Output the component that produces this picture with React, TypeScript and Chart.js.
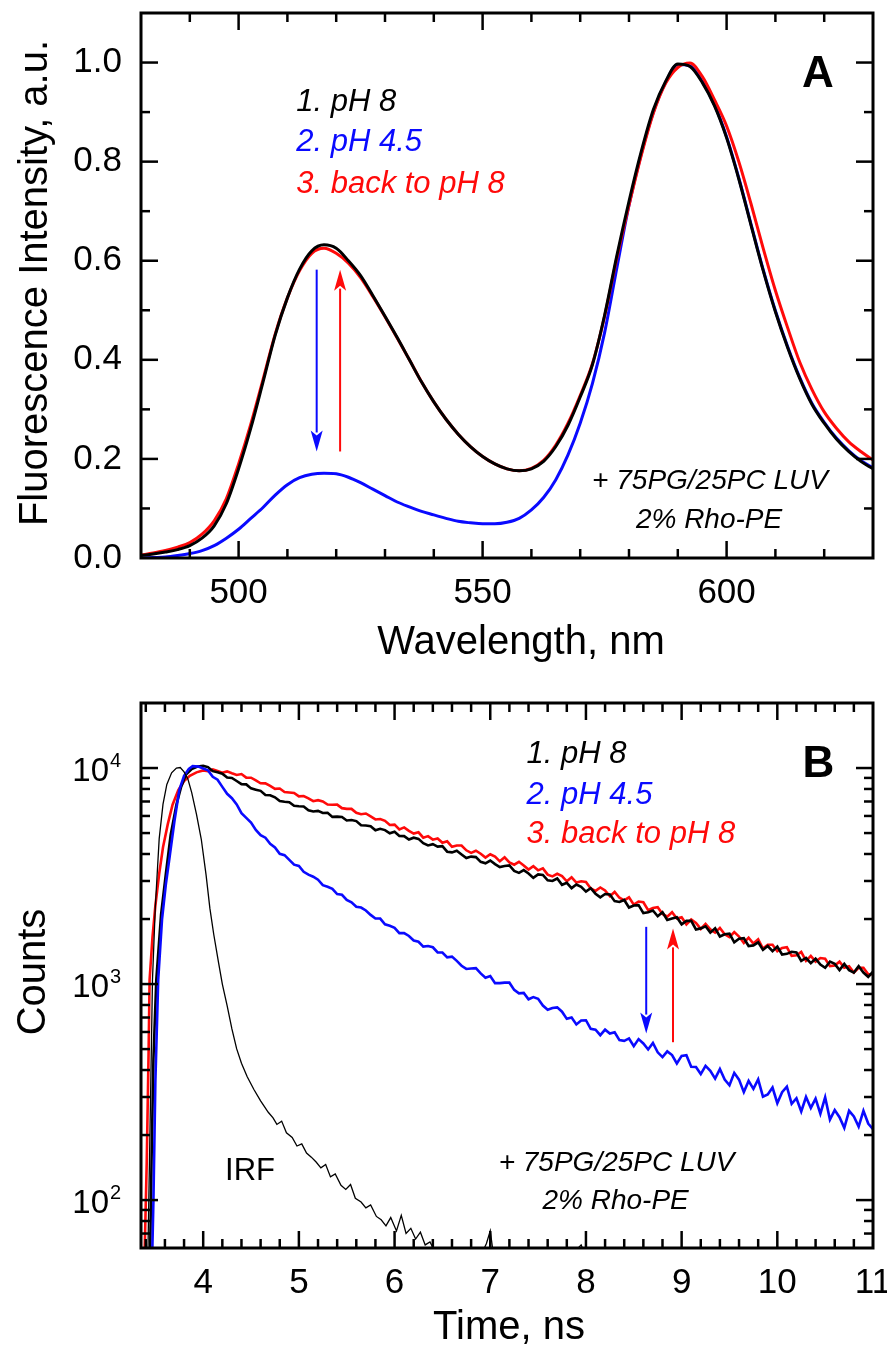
import React, { useEffect, useRef } from 'react';
import { Chart, registerables } from 'chart.js';

Chart.register(...registerables);

const FONT = "'Liberation Sans', Arial, Helvetica, sans-serif";
const BLACK = '#000000';
const BLUE = '#0a0aff';
const RED = '#ff0a0a';

const W = 887;
const HA = 690;
const HB = 659;

// ---------------- Panel A : emission spectra ----------------
const wavelengthNm = [
  480, 482.5, 485, 487.5, 490, 492.5, 495, 497.5, 500, 502.5,
  505, 507.5, 510, 512.5, 515, 517.5, 520, 522.5, 525, 527.5,
  530, 532.5, 535, 537.5, 540, 542.5, 545, 547.5, 550, 552.5,
  555, 557.5, 560, 562.5, 565, 567.5, 570, 572.5, 575, 577.5,
  580, 582.5, 585, 587.5, 590, 592.5, 595, 597.5, 600, 602.5,
  605, 607.5, 610, 612.5, 615, 617.5, 620, 622.5, 625, 627.5,
  630,
];
const intensityPH8 = [
  0.005, 0.008, 0.012, 0.017, 0.025, 0.040, 0.065, 0.110, 0.180, 0.262,
  0.355, 0.450, 0.525, 0.583, 0.620, 0.632, 0.625, 0.600, 0.570, 0.530,
  0.488, 0.445, 0.400, 0.355, 0.315, 0.280, 0.250, 0.225, 0.205, 0.190,
  0.180, 0.176, 0.180, 0.195, 0.225, 0.268, 0.325, 0.390, 0.490, 0.610,
  0.720, 0.820, 0.905, 0.962, 0.997, 0.992, 0.960, 0.913, 0.848, 0.765,
  0.672, 0.580, 0.497, 0.425, 0.362, 0.310, 0.272, 0.240, 0.215, 0.195,
  0.180,
];
const intensityPH45 = [
  0.000, 0.001, 0.002, 0.005, 0.009, 0.015, 0.025, 0.040, 0.058, 0.080,
  0.102, 0.127, 0.148, 0.162, 0.169, 0.171, 0.170, 0.163, 0.152, 0.139,
  0.126, 0.113, 0.103, 0.094, 0.087, 0.080, 0.074, 0.071, 0.069, 0.069,
  0.072, 0.080, 0.097, 0.122, 0.158, 0.208, 0.272, 0.352, 0.455, 0.585,
  0.712, 0.815, 0.900, 0.960, 0.996, 0.993, 0.962, 0.915, 0.850, 0.767,
  0.674, 0.582, 0.499, 0.427, 0.364, 0.312, 0.274, 0.242, 0.217, 0.197,
  0.182,
];
const intensityBackPH8 = [
  0.006, 0.010, 0.015, 0.022, 0.031, 0.048, 0.075, 0.120, 0.190, 0.270,
  0.360, 0.452, 0.525, 0.580, 0.615, 0.625, 0.615, 0.595, 0.566, 0.528,
  0.487, 0.444, 0.400, 0.355, 0.315, 0.280, 0.250, 0.225, 0.205, 0.190,
  0.180, 0.176, 0.181, 0.197, 0.228, 0.272, 0.328, 0.392, 0.488, 0.605,
  0.712, 0.812, 0.898, 0.958, 0.990, 0.999, 0.972, 0.925, 0.872, 0.800,
  0.715, 0.625, 0.540, 0.465, 0.395, 0.340, 0.295, 0.262, 0.235, 0.215,
  0.198,
];
const wavelengthTickLabels = [500, 550, 600];
const intensityTickLabels = [0, 0.2, 0.4, 0.6, 0.8, 1.0];

// ---------------- Panel B : fluorescence decays ----------------
// leading edges (ns, counts)
const ph8RiseTime = [3.44, 3.46, 3.48, 3.51, 3.56, 3.61, 3.66, 3.72, 3.77, 3.82, 3.88, 3.94];
const ph8RiseCounts = [40, 150, 450, 1050, 2100, 3240, 4900, 6760, 8200, 9330, 9900, 10150];
const backRiseTime = [3.38, 3.41, 3.43, 3.44, 3.47, 3.50, 3.54, 3.58, 3.63, 3.68, 3.74, 3.80, 3.86, 3.93];
const backRiseCounts = [40, 150, 500, 1050, 1650, 2300, 3240, 4300, 5500, 6760, 7900, 8700, 9200, 9550];
const ph45RiseTime = [3.46, 3.48, 3.50, 3.53, 3.57, 3.61, 3.65, 3.70, 3.75, 3.80, 3.85, 3.89, 3.95];
const ph45RiseCounts = [40, 100, 350, 1050, 2000, 2900, 3900, 5700, 7900, 9200, 9900, 10200, 10150];

// decay channels, 4.00 ns ... 11.00 ns every 0.05 ns
const decayTime = Array.from({ length: 141 }, (_, i) => Math.round((4 + i * 0.05) * 100) / 100);
const ph8DecayCounts = [
  10230, 10100, 9670, 9550, 9420, 9030, 9000, 8710, 8420, 8400,
  8050, 7940, 7840, 7500, 7480, 7320, 7030, 6980, 6940, 6690,
  6650, 6640, 6380, 6290, 6330, 6190, 6200, 5940, 5960, 5930,
  5720, 5750, 5680, 5430, 5420, 5380, 5150, 5230, 5160, 4990,
  5070, 4850, 4840, 4670, 4760, 4700, 4490, 4380, 4440, 4330,
  4350, 4100, 4070, 4140, 3980, 3830, 3890, 3870, 3680, 3620,
  3730, 3590, 3480, 3520, 3540, 3340, 3270, 3370, 3250, 3100,
  3220, 3200, 3020, 3000, 3080, 2880, 2940, 2780, 2890, 2820,
  2680, 2780, 2620, 2520, 2610, 2600, 2420, 2400, 2450, 2260,
  2310, 2320, 2130, 2150, 2190, 2060, 2150, 1980, 2010, 2040,
  1890, 1960, 1960, 1790, 1810, 1850, 1730, 1810, 1660, 1700,
  1710, 1560, 1620, 1630, 1500, 1510, 1560, 1440, 1500, 1420,
  1490, 1370, 1380, 1410, 1400, 1280, 1320, 1250, 1310, 1230,
  1190, 1270, 1240, 1160, 1240, 1160, 1130, 1210, 1130, 1080,
  1140,
];
const backDecayCounts = [
  9750, 9670, 9850, 9680, 9520, 9650, 9460, 9290, 9380, 9030,
  9020, 8770, 8500, 8490, 8260, 8010, 8040, 7750, 7710, 7670,
  7390, 7420, 7240, 7020, 7100, 7000, 6780, 6760, 6770, 6520,
  6470, 6470, 6210, 6110, 6160, 5970, 5780, 5810, 5700, 5450,
  5470, 5200, 5310, 5120, 4970, 5040, 4760, 4840, 4660, 4720,
  4510, 4580, 4320, 4380, 4380, 4160, 4050, 4140, 4010, 3850,
  3990, 3890, 3700, 3860, 3660, 3570, 3680, 3540, 3390, 3510,
  3360, 3430, 3210, 3150, 3240, 3160, 2990, 3120, 2950, 2990,
  2970, 2770, 2700, 2800, 2710, 2550, 2670, 2510, 2440, 2520,
  2330, 2410, 2390, 2200, 2250, 2270, 2110, 2050, 2150, 2010,
  2040, 1890, 1990, 1920, 1800, 1900, 1790, 1730, 1820, 1700,
  1650, 1740, 1660, 1550, 1640, 1540, 1610, 1460, 1520, 1520,
  1420, 1470, 1480, 1350, 1360, 1410, 1280, 1350, 1270, 1320,
  1310, 1210, 1220, 1270, 1190, 1210, 1130, 1190, 1190, 1110,
  1110,
];
const ph45DecayCounts = [
  9950, 9750, 9110, 8830, 8180, 7600, 7250, 6780, 6180, 5880,
  5590, 5170, 4890, 4760, 4460, 4290, 4010, 3950, 3760, 3570,
  3520, 3310, 3210, 3140, 3040, 2870, 2820, 2760, 2610, 2590,
  2450, 2390, 2280, 2260, 2190, 2090, 2010, 2010, 1890, 1860,
  1820, 1720, 1720, 1670, 1590, 1570, 1490, 1500, 1480, 1400,
  1400, 1330, 1340, 1280, 1215, 1175, 1180, 1185, 1120, 1070,
  1090, 1010, 1010, 1015, 1015, 940, 905, 910, 850, 870,
  855, 795, 760, 775, 780, 745, 690, 700, 650, 678,
  680, 620, 615, 580, 615, 590, 598, 550, 546, 560,
  516, 556, 531, 498, 534, 483, 459, 488, 469, 429,
  465, 468, 414, 413, 383, 418, 397, 365, 404, 361,
  340, 388, 361, 316, 356, 327, 362, 301, 308, 332,
  281, 316, 335, 279, 296, 257, 300, 267, 295, 251,
  299, 236, 261, 242, 216, 259, 244, 219, 259, 226,
  213,
];
const irfTime = [
  3.42, 3.45, 3.47, 3.50, 3.54, 3.58, 3.62, 3.67, 3.72, 3.76,
  3.80, 3.84, 3.88, 3.93, 3.98, 4.03, 4.07, 4.11, 4.16, 4.20,
  4.25, 4.30, 4.35, 4.40, 4.46, 4.53, 4.60, 4.68, 4.73, 4.77,
  4.82, 4.87, 4.93, 4.98, 5.03, 5.08, 5.13, 5.18, 5.23, 5.28,
  5.33, 5.38, 5.44, 5.49, 5.54, 5.59, 5.65, 5.70, 5.75, 5.81,
  5.86, 5.91, 5.96, 6.02, 6.07, 6.12, 6.17, 6.22, 6.27, 6.32,
  6.37, 6.42, 6.50, 6.60, 6.70, 6.80, 6.90, 6.96, 7.00, 7.04,
  7.15, 7.30, 7.45, 7.60, 7.80, 7.95, 8.05, 8.20,
];
const irfCounts = [
  50, 300, 1050, 2300, 4700, 6800, 8400, 9500, 10000, 10050,
  9600, 8900, 7700, 6100, 4680, 3200, 2240, 1700, 1260, 1000,
  794, 620, 501, 430, 372, 325, 288, 255, 240, 224,
  232, 205, 195, 178, 182, 165, 158, 150, 141, 146,
  128, 132, 117, 112, 118, 102, 98, 92, 95, 84,
  81, 76, 83, 72, 85, 70, 74, 66, 71, 62,
  64, 58, 56, 52, 57, 50, 55, 63, 72, 53,
  57, 50, 55, 49, 53, 62, 48, 51,
];
const timeTickLabels = [4, 5, 6, 7, 8, 9, 10, 11];
const countsTickLabels = [100, 1000, 10000];

// ---------------- helpers ----------------
type Pt = { x: number; y: number };
const zip = (xs: number[], ys: number[]): Pt[] => xs.map((x, i) => ({ x, y: ys[i] }));

function makeDecor(cfg: any) {
  return {
    id: 'decor',
    afterDraw(chart: any) {
      const { ctx, chartArea: a } = chart;
      const xs = chart.scales.x;
      const ys = chart.scales.y;
      ctx.save();
      const seg = (x1: number, y1: number, x2: number, y2: number) => {
        ctx.beginPath();
        ctx.moveTo(x1, y1);
        ctx.lineTo(x2, y2);
        ctx.stroke();
      };
      ctx.strokeStyle = '#000';
      ctx.lineWidth = 2.5;
      const xt = (vals: number[], len: number) =>
        vals.forEach((v) => {
          const p = xs.getPixelForValue(v);
          if (p < a.left + 1 || p > a.right - 1) return;
          seg(p, a.bottom, p, a.bottom - len);
          seg(p, a.top, p, a.top + len);
        });
      const yt = (vals: number[], len: number) =>
        vals.forEach((v) => {
          const p = ys.getPixelForValue(v);
          if (p < a.top + 1 || p > a.bottom - 1) return;
          seg(a.left, p, a.left + len, p);
          seg(a.right, p, a.right - len, p);
        });
      xt(cfg.xMajor, 17);
      xt(cfg.xMinor, 9);
      yt(cfg.yMajor, 17);
      yt(cfg.yMinor, 9);
      ctx.lineWidth = 3;
      ctx.strokeRect(a.left, a.top, a.right - a.left, a.bottom - a.top);

      // arrows
      for (const ar of cfg.arrows) {
        const px = xs.getPixelForValue(ar.x);
        const y1 = ys.getPixelForValue(ar.from);
        const y2 = ys.getPixelForValue(ar.to);
        const dir = Math.sign(y2 - y1);
        const headLen = 21;
        const headHalf = 6;
        ctx.strokeStyle = ar.color;
        ctx.fillStyle = ar.color;
        ctx.lineWidth = 2;
        seg(px, y1, px, y2 - dir * (headLen - 2));
        ctx.beginPath();
        ctx.moveTo(px, y2);
        ctx.lineTo(px - headHalf, y2 - dir * headLen);
        ctx.lineTo(px, y2 - dir * (headLen - 5));
        ctx.lineTo(px + headHalf, y2 - dir * headLen);
        ctx.closePath();
        ctx.fill();
      }

      // annotation texts
      for (const lb of cfg.labels) {
        ctx.font = lb.font;
        ctx.fillStyle = lb.color;
        ctx.textAlign = lb.align;
        ctx.textBaseline = 'middle';
        ctx.fillText(lb.text, xs.getPixelForValue(lb.x), ys.getPixelForValue(lb.y));
      }

      // log tick labels with superscripts
      if (cfg.powerLabels) {
        ctx.fillStyle = '#000';
        for (const v of cfg.powerLabels) {
          const p = ys.getPixelForValue(v);
          const e = String(Math.round(Math.log10(v)));
          ctx.font = `33px ${FONT}`;
          ctx.textAlign = 'right';
          ctx.textBaseline = 'middle';
          ctx.fillText('10', 109, p + 4);
          ctx.font = `20px ${FONT}`;
          ctx.textAlign = 'left';
          ctx.fillText(e, 110, p - 7);
        }
      }

      // axis titles
      ctx.fillStyle = '#000';
      ctx.font = `40px ${FONT}`;
      ctx.textAlign = 'center';
      ctx.textBaseline = 'middle';
      ctx.fillText(cfg.xTitle, cfg.xTitlePos[0], cfg.xTitlePos[1]);
      ctx.save();
      ctx.translate(cfg.yTitlePos[0], cfg.yTitlePos[1]);
      ctx.rotate(-Math.PI / 2);
      ctx.fillText(cfg.yTitle, 0, 0);
      ctx.restore();
      ctx.restore();
    },
  };
}

const annFont = `italic 31px ${FONT}`;
const noteFont = `italic 28px ${FONT}`;

function fixX(h: number) {
  return (s: any) => {
    s.height = h;
    s.paddingLeft = 0;
    s.paddingRight = 0;
    s.paddingTop = 0;
    s.paddingBottom = 0;
  };
}
function fixY(w: number) {
  return (s: any) => {
    s.width = w;
    s.paddingLeft = 0;
    s.paddingRight = 0;
    s.paddingTop = 0;
    s.paddingBottom = 0;
  };
}

function configA(): any {
  const xMinor: number[] = [];
  for (let v = 490; v <= 630; v += 10) if (v % 50 !== 0) xMinor.push(v);
  const yMinor = [0.1, 0.3, 0.5, 0.7, 0.9];
  return {
    type: 'line',
    data: {
      datasets: [
        { label: '1. pH 8', data: zip(wavelengthNm, intensityPH8), borderColor: BLACK, borderWidth: 3 },
        { label: '3. back to pH 8', data: zip(wavelengthNm, intensityBackPH8), borderColor: RED, borderWidth: 3 },
        { label: '2. pH 4.5', data: zip(wavelengthNm, intensityPH45), borderColor: BLUE, borderWidth: 3 },
      ].map((d) => ({ ...d, pointRadius: 0, cubicInterpolationMode: 'monotone', fill: false })),
    },
    options: {
      animation: false,
      responsive: false,
      maintainAspectRatio: false,
      layout: { padding: { top: 13, right: 14, left: 0, bottom: 0 } },
      plugins: { legend: { display: false }, tooltip: { enabled: false } },
      scales: {
        x: {
          type: 'linear',
          min: 480,
          max: 630,
          grid: { display: false, drawTicks: false },
          border: { display: false },
          ticks: { color: '#000', font: { family: FONT, size: 35 }, padding: 14, maxRotation: 0 },
          afterBuildTicks: (s: any) => {
            s.ticks = wavelengthTickLabels.map((v) => ({ value: v }));
          },
          afterFit: fixX(HA - 558),
        },
        y: {
          type: 'linear',
          min: 0,
          max: 1.1,
          grid: { display: false, drawTicks: false },
          border: { display: false },
          ticks: {
            color: '#000',
            font: { family: FONT, size: 35 },
            padding: 19,
            callback: (v: number) => Number(v).toFixed(1),
          },
          afterBuildTicks: (s: any) => {
            s.ticks = intensityTickLabels.map((v) => ({ value: v }));
          },
          afterFit: fixY(141),
        },
      },
    },
    plugins: [
      makeDecor({
        xMajor: wavelengthTickLabels,
        xMinor,
        yMajor: intensityTickLabels,
        yMinor,
        arrows: [
          { x: 516.0, from: 0.582, to: 0.215, color: BLUE },
          { x: 520.8, from: 0.215, to: 0.582, color: RED },
        ],
        labels: [
          { text: '1. pH 8', x: 511.8, y: 0.919, color: BLACK, align: 'left', font: annFont },
          { text: '2. pH 4.5', x: 511.8, y: 0.838, color: BLUE, align: 'left', font: annFont },
          { text: '3. back to pH 8', x: 511.8, y: 0.754, color: RED, align: 'left', font: annFont },
          { text: 'A', x: 618.7, y: 0.976, color: BLACK, align: 'center', font: `bold 44px ${FONT}` },
          { text: '+ 75PG/25PC LUV', x: 596.6, y: 0.154, color: BLACK, align: 'center', font: noteFont },
          { text: '2% Rho-PE', x: 596.4, y: 0.077, color: BLACK, align: 'center', font: noteFont },
        ],
        xTitle: 'Wavelength, nm',
        xTitlePos: [521, 643],
        yTitle: 'Fluorescence Intensity, a.u.',
        yTitlePos: [36, 283],
      }),
    ],
  };
}

function configB(): any {
  const xMinor: number[] = [];
  for (let i = 17; i <= 55; i++) if (i % 5 !== 0) xMinor.push(i / 5);
  const yMinor: number[] = [];
  [10, 100, 1000, 10000].forEach((d) => [2, 3, 4, 5, 6, 7, 8, 9].forEach((m) => yMinor.push(d * m)));
  const ph8 = zip(ph8RiseTime, ph8RiseCounts).concat(zip(decayTime, ph8DecayCounts));
  const back = zip(backRiseTime, backRiseCounts).concat(zip(decayTime, backDecayCounts));
  const ph45 = zip(ph45RiseTime, ph45RiseCounts).concat(zip(decayTime, ph45DecayCounts));
  return {
    type: 'line',
    data: {
      datasets: [
        { label: 'IRF', data: zip(irfTime, irfCounts), borderColor: BLACK, borderWidth: 1.3 },
        { label: '2. pH 4.5', data: ph45, borderColor: BLUE, borderWidth: 2.6 },
        { label: '1. pH 8', data: ph8, borderColor: BLACK, borderWidth: 2.6 },
        { label: '3. back to pH 8', data: back, borderColor: RED, borderWidth: 2.6 },
      ].map((d) => ({ ...d, pointRadius: 0, tension: 0, fill: false })),
    },
    options: {
      animation: false,
      responsive: false,
      maintainAspectRatio: false,
      layout: { padding: { top: 13, right: 14, left: 0, bottom: 0 } },
      plugins: { legend: { display: false }, tooltip: { enabled: false } },
      scales: {
        x: {
          type: 'linear',
          min: 3.35,
          max: 11,
          grid: { display: false, drawTicks: false },
          border: { display: false },
          ticks: { color: '#000', font: { family: FONT, size: 35 }, padding: 14, maxRotation: 0 },
          afterBuildTicks: (s: any) => {
            s.ticks = timeTickLabels.map((v) => ({ value: v }));
          },
          afterFit: fixX(HB - 558),
        },
        y: {
          type: 'logarithmic',
          min: 60,
          max: 20000,
          grid: { display: false, drawTicks: false },
          border: { display: false },
          ticks: { display: false },
          afterBuildTicks: (s: any) => {
            s.ticks = countsTickLabels.map((v) => ({ value: v }));
          },
          afterFit: fixY(141),
        },
      },
    },
    plugins: [
      makeDecor({
        xMajor: timeTickLabels,
        xMinor,
        yMajor: countsTickLabels,
        yMinor,
        powerLabels: countsTickLabels,
        arrows: [
          { x: 8.63, from: 1840, to: 590, color: BLUE },
          { x: 8.91, from: 538, to: 1810, color: RED },
        ],
        labels: [
          { text: '1. pH 8', x: 7.38, y: 11600, color: BLACK, align: 'left', font: annFont },
          { text: '2. pH 4.5', x: 7.38, y: 7500, color: BLUE, align: 'left', font: annFont },
          { text: '3. back to pH 8', x: 7.38, y: 4940, color: RED, align: 'left', font: annFont },
          { text: 'B', x: 10.43, y: 10300, color: BLACK, align: 'center', font: `bold 44px ${FONT}` },
          { text: 'IRF', x: 4.49, y: 135, color: BLACK, align: 'center', font: `31px ${FONT}` },
          { text: '+ 75PG/25PC LUV', x: 8.32, y: 148, color: BLACK, align: 'center', font: noteFont },
          { text: '2% Rho-PE', x: 8.31, y: 99, color: BLACK, align: 'center', font: noteFont },
        ],
        xTitle: 'Time, ns',
        xTitlePos: [509, 638],
        yTitle: 'Counts',
        yTitlePos: [34, 282],
      }),
    ],
  };
}

export default function App() {
  const refA = useRef<HTMLCanvasElement>(null);
  const refB = useRef<HTMLCanvasElement>(null);
  useEffect(() => {
    const a = new Chart(refA.current as HTMLCanvasElement, configA());
    const b = new Chart(refB.current as HTMLCanvasElement, configB());
    return () => {
      a.destroy();
      b.destroy();
    };
  }, []);
  return (
    <div style={{ position: 'absolute', left: 0, top: 0, width: W, height: HA + HB, background: '#fff' }}>
      <canvas
        ref={refA}
        width={W}
        height={HA}
        style={{ position: 'absolute', left: 0, top: 0, width: W, height: HA }}
      />
      <canvas
        ref={refB}
        width={W}
        height={HB}
        style={{ position: 'absolute', left: 0, top: HA, width: W, height: HB }}
      />
    </div>
  );
}
